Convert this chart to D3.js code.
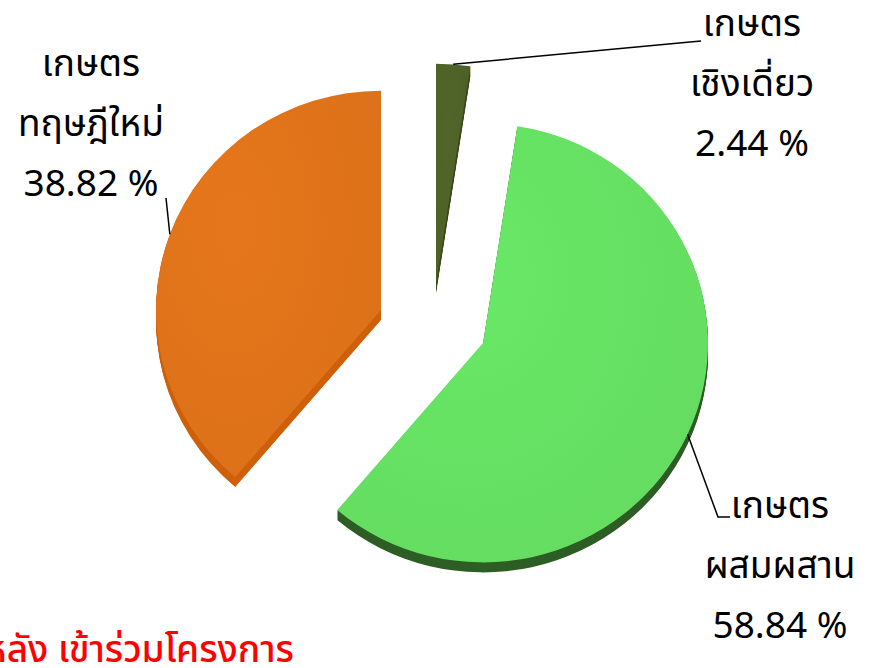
<!DOCTYPE html>
<html>
<head>
<meta charset="utf-8">
<script src="https://cdn.jsdelivr.net/npm/d3@7"></script>
<style>
  body { margin: 0; background: #fff; }
  svg { display: block; }
  text { font-family: Tahoma, "Leelawadee UI", "Noto Sans Thai", "Noto Sans Thai UI", "DejaVu Sans", sans-serif; }
</style>
</head>
<body>
<div id="chart"></div>
<script>
// data
const categories = ["เกษตรเชิงเดี่ยว", "เกษตรผสมผสาน", "เกษตรทฤษฎีใหม่"];
const labelLines = [["เกษตร", "เชิงเดี่ยว"], ["เกษตร", "ผสมผสาน"], ["เกษตร", "ทฤษฎีใหม่"]];
const values = [2.44, 58.84, 38.82];
const footerText = "หลัง เข้าร่วมโครงการ";

const data = categories.map((c, i) => ({ name: c, lines: labelLines[i], value: values[i] }));

// layout
const width = 871, height = 668;
const center = { x: 432, y: 330 };
const radius = 225;
const yScale = 0.975;   // slight tilt of the 3d pie
const depth = 10;

const topColors = ["#4f6228", "#66e163", "#e0731a"];
const sideColors = ["#3a4a1c", "#2e5e25", "#cf600b"];
// each slice is pulled out a bit (per slice, like excel explosion)
const explode = [[4, -47], [51, 13], [-51, -20]];

// where the text of each label sits, and the bend of its leader
const labelPos = [
    { x: 752, y: 36, path: [[690, 42], [701, 41]] },
    { x: 780, y: 518, path: [[718, 517], [730, 517]] },
    { x: 91, y: 76, path: [[166, 198]] }
];

const svg = d3.select("#chart")
    .append("svg")
    .attr("width", width)
    .attr("height", height);

const defs = svg.append("defs");

topColors.forEach((c, i) => {
    const g = defs.append("radialGradient")
        .attr("id", "grad" + i)
        .attr("cx", "35%").attr("cy", "35%").attr("r", "75%");
    g.append("stop").attr("offset", "0%").attr("stop-color", d3.color(c).brighter(0.08));
    g.append("stop").attr("offset", "100%").attr("stop-color", d3.color(c).darker(0.06));
});

const pie = d3.pie()
    .sort(null)
    .value(d => d.value);

const arcs = pie(data);

const arc = d3.arc()
    .innerRadius(0)
    .outerRadius(radius);

const slices = svg.append("g")
    .selectAll("g")
    .data(arcs)
    .enter()
    .append("g")
    .attr("transform", (d, i) => `translate(${center.x + explode[i][0]},${center.y + explode[i][1]})`);

// side walls: the same slice pushed down step by step
slices.each(function(d, i) {
    const g = d3.select(this);
    for (let k = depth; k >= 1; k--) {
        g.append("path")
            .attr("d", arc(d))
            .attr("transform", `translate(0,${k}) scale(1,${yScale})`)
            .attr("fill", sideColors[i]);
    }
    g.append("path")
        .attr("d", arc(d))
        .attr("transform", `scale(1,${yScale})`)
        .attr("fill", `url(#grad${i})`);
});

// leader lines, from the rim at the middle angle of the slice
const fmt = d3.format(".2f");

arcs.forEach((d, i) => {
    const mid = (d.startAngle + d.endAngle) / 2;
    const sx = center.x + explode[i][0] + radius * Math.sin(mid);
    const sy = center.y + explode[i][1] - radius * Math.cos(mid) * yScale;
    const pts = [[sx, sy]].concat(labelPos[i].path);

    svg.append("path")
        .attr("d", d3.line()(pts))
        .attr("fill", "none")
        .attr("stroke", "#000")
        .attr("stroke-width", 1.5);

    const t = svg.append("text")
        .attr("x", labelPos[i].x)
        .attr("y", labelPos[i].y)
        .attr("text-anchor", "middle")
        .attr("font-size", 37)
        .attr("fill", "#000");

    d.data.lines.concat([fmt(d.data.value) + " %"]).forEach((line, j) => {
        t.append("tspan")
            .attr("x", labelPos[i].x)
            .attr("dy", j === 0 ? 0 : 60)
            .text(line);
    });
});

svg.append("text")
    .attr("x", 294)
    .attr("y", 662)
    .attr("text-anchor", "end")
    .attr("font-size", 37)
    .attr("font-weight", 500)
    .attr("fill", "#ff0000")
    .text(footerText);
</script>
</body>
</html>
